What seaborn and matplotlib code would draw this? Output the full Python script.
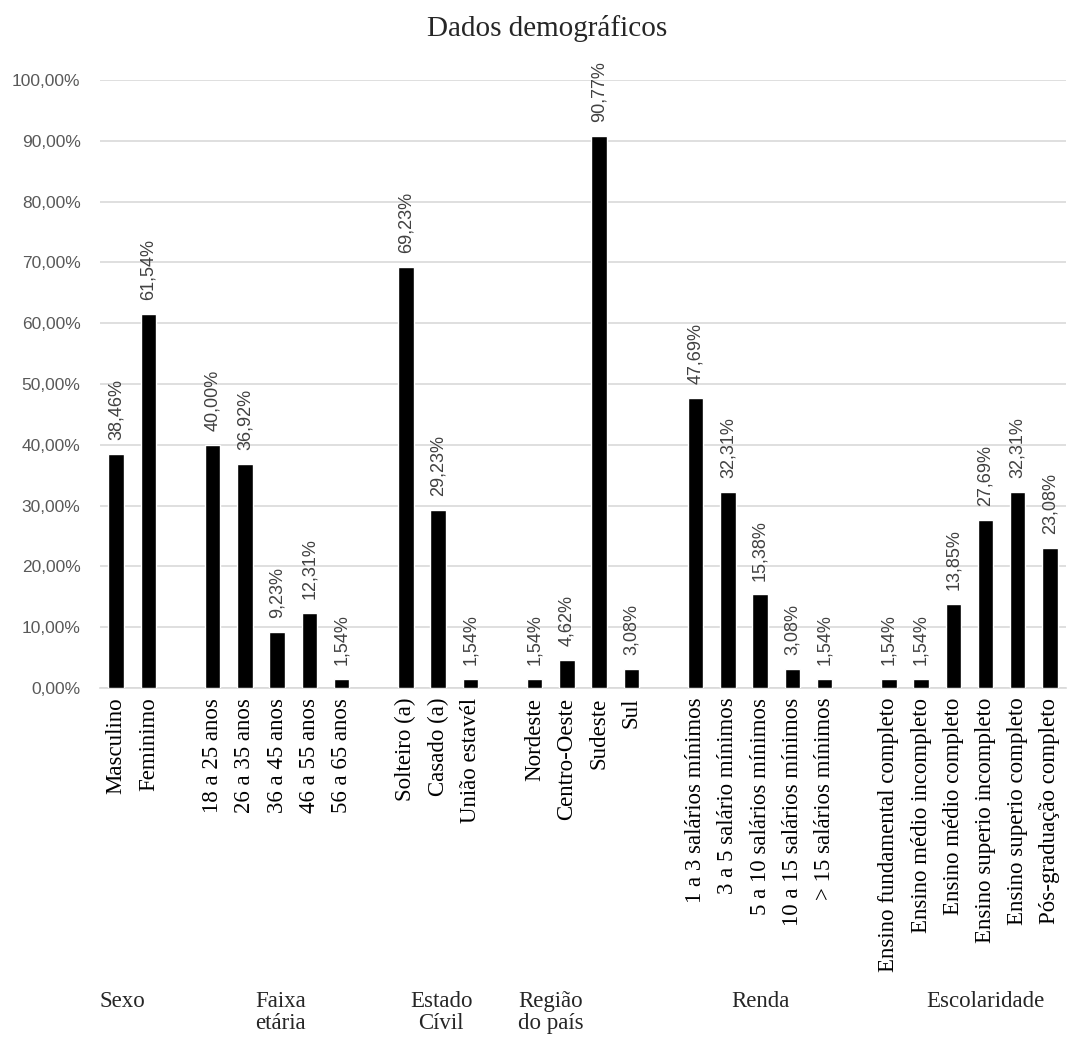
import matplotlib
matplotlib.use("Agg")
import matplotlib.pyplot as plt
import numpy as np
import pandas as pd
import seaborn as sns

# groups of the survey, each one a block of bars with an empty slot between blocks
grupos = ["Sexo", "Faixa\netária", "Estado\nCívil", "Região\ndo país", "Renda", "Escolaridade"]

sexo = ["Masculino", "Feminimo"]
sexo_val = [38.46, 61.54]

faixa = ["18 a 25 anos", "26 a 35 anos", "36 a 45 anos", "46 a 55 anos", "56 a 65 anos"]
faixa_val = [40.00, 36.92, 9.23, 12.31, 1.54]

estado = ["Solteiro (a)", "Casado (a)", "União estavél"]
estado_val = [69.23, 29.23, 1.54]

regiao = ["Nordeste", "Centro-Oeste", "Sudeste", "Sul"]
regiao_val = [1.54, 4.62, 90.77, 3.08]

renda = ["1 a 3 salários mínimos", "3 a 5 salário mínimos", "5 a 10 salários mínimos",
         "10 a 15 salários mínimos", "> 15 salários mínimos"]
renda_val = [47.69, 32.31, 15.38, 3.08, 1.54]

escol = ["Ensino fundamental completo", "Ensino médio incompleto", "Ensino médio completo",
         "Ensino superio incompleto", "Ensino superio completo", "Pós-graduação completo"]
escol_val = [1.54, 1.54, 13.85, 27.69, 32.31, 23.08]

blocos = [(sexo, sexo_val), (faixa, faixa_val), (estado, estado_val),
          (regiao, regiao_val), (renda, renda_val), (escol, escol_val)]

# where each group label sits, in bar-slot units (hand placed text boxes)
grupo_x = [0.2, 5.1, 10.1, 13.5, 20.0, 27.0]

rows = []
pos = 0
for gi, (cats, vals) in enumerate(blocos):
    for c, v in zip(cats, vals):
        rows.append([pos, c, v / 100, grupos[gi]])
        pos += 1
    pos += 1
df = pd.DataFrame(rows, columns=["pos", "categoria", "valor", "grupo"])

sns.set_theme(style="white")
plt.rcParams["font.family"] = ["Liberation Sans", "DejaVu Sans"]

fig = plt.figure(figsize=(10.67, 10.37), dpi=100)
ax = fig.add_axes([100 / 1067, 1 - 688 / 1037, 966 / 1067, 608 / 1037])

sns.barplot(data=df, x="pos", y="valor", native_scale=True, color="black",
            width=0.48, saturation=1, ax=ax, zorder=3)

ax.set_xlim(-0.5, pos - 1.5)
ax.set_ylim(0, 1.0)
ax.set_yticks(np.arange(0, 1.01, 0.1))
ax.set_yticklabels([f"{t * 100:.2f}%".replace(".", ",") for t in np.arange(0, 1.01, 0.1)],
                   fontsize=12.5, color="#595959")
ax.set_xticks(df["pos"])
ax.set_xticklabels(df["categoria"], rotation=90, fontsize=16.5, family="Liberation Serif",
                   color="black", va="top")
ax.tick_params(axis="x", length=0, pad=7)
ax.tick_params(axis="y", length=0, pad=14)
ax.set_xlabel("")
ax.set_ylabel("")

ax.yaxis.grid(True, color="#d9d9d9", linewidth=1.2, zorder=0)
ax.set_axisbelow(True)
for s in ["top", "right", "left"]:
    ax.spines[s].set_visible(False)
ax.spines["bottom"].set_color("#d9d9d9")
ax.spines["bottom"].set_linewidth(1.2)

for _, r in df.iterrows():
    ax.annotate(f"{r['valor'] * 100:.2f}%".replace(".", ","), (r["pos"], r["valor"]),
                xytext=(0, 10), textcoords="offset points", rotation=90,
                ha="center", va="bottom", fontsize=13, color="#404040",
                annotation_clip=False)

for g, gx in zip(grupos, grupo_x):
    ax.text(gx, -0.498, g, transform=ax.get_xaxis_transform(), ha="center", va="top",
            multialignment="center", fontsize=16.5, family="Liberation Serif",
            linespacing=1.05)

fig.text(547 / 1067, 1 - 28 / 1037, "Dados demográficos", ha="center", va="center",
         fontsize=21, family="Liberation Serif")

fig.savefig("out.png", dpi=100, facecolor="white")
